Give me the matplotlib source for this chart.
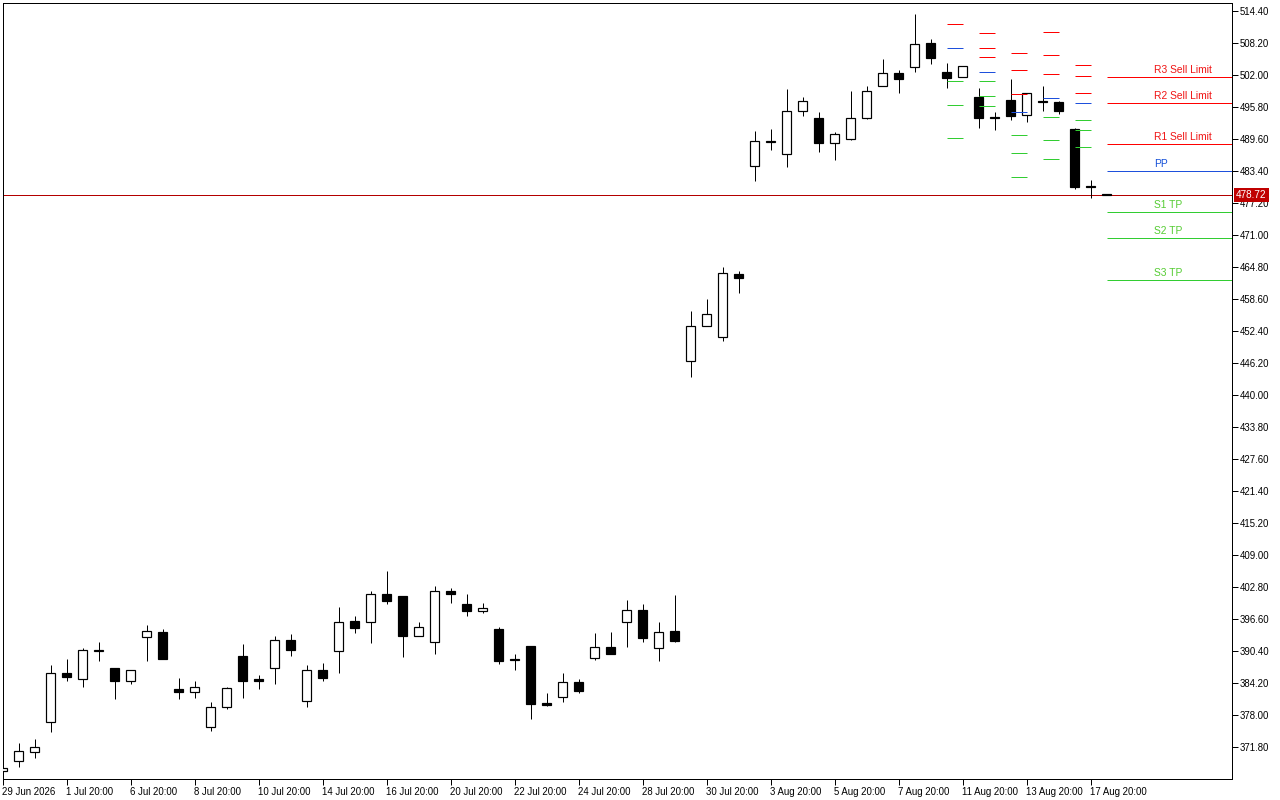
"""
Grafico de velas con pivotes diarios (estilo terminal)
"""

import matplotlib
matplotlib.use("Agg")
import matplotlib.pyplot as plt
import matplotlib.transforms as mtrans

plt.rcParams['font.family'] = ['Liberation Sans', 'DejaVu Sans']

# velas de 12h: apertura, maximo, minimo, cierre
opens = [367.21, 369.03, 370.89, 376.71, 386.07, 384.91, 390.45, 387.04, 384.65, 393.05,
         394.08, 383.04, 382.52, 375.61, 379.48, 389.37, 384.97, 387.04, 392.47, 380.65,
         386.65, 390.33, 396.15, 395.95, 401.38, 401.06, 393.37, 392.08, 401.96, 399.51,
         398.21, 394.66, 388.70, 391.37, 380.26, 381.42, 384.39, 389.11, 391.11, 395.95,
         398.28, 390.92, 394.27, 446.52, 453.30, 451.17, 463.38, 484.30, 489.00, 486.63,
         494.96, 493.60, 488.89, 489.66, 493.73, 499.80, 502.32, 503.48, 508.20, 502.58,
         501.55, 497.74, 493.93, 497.15, 494.18, 497.03, 496.70, 491.54, 480.36, 478.75]
highs = [367.80, 372.57, 373.35, 387.69, 388.85, 390.92, 392.14, 387.04, 386.65, 395.44,
         394.60, 385.17, 384.59, 380.52, 383.42, 391.76, 385.68, 393.31, 393.69, 387.69,
         388.07, 398.92, 397.18, 402.02, 405.90, 401.06, 396.02, 402.99, 402.54, 401.44,
         399.63, 394.98, 389.82, 391.37, 382.20, 386.14, 384.97, 393.95, 394.14, 400.28,
         399.51, 396.02, 401.31, 456.27, 458.60, 464.80, 464.02, 491.15, 491.54, 499.29,
         497.74, 494.83, 490.96, 498.90, 499.80, 505.10, 502.97, 513.90, 508.97, 504.32,
         503.68, 499.48, 494.77, 501.22, 498.45, 499.87, 496.96, 491.67, 481.66, 478.80]
lows = [367.10, 367.98, 369.73, 374.70, 384.65, 383.49, 388.53, 381.16, 384.07, 388.53,
        388.91, 381.16, 381.36, 374.96, 379.10, 381.36, 383.10, 384.07, 389.49, 379.61,
        384.65, 386.20, 393.95, 392.01, 399.57, 389.30, 393.37, 389.88, 399.76, 397.24,
        397.83, 387.94, 386.78, 377.22, 379.74, 380.52, 382.33, 388.72, 389.88, 391.24,
        392.21, 388.53, 392.21, 443.55, 453.30, 450.52, 459.82, 481.53, 487.53, 484.24,
        494.06, 487.14, 485.59, 489.47, 493.54, 499.80, 498.58, 502.64, 504.19, 499.54,
        501.55, 491.79, 491.41, 493.28, 492.96, 495.09, 494.51, 479.98, 478.23, 478.70]
closes = [367.67, 370.97, 371.73, 386.07, 385.43, 390.53, 390.55, 384.65, 386.65, 394.27,
          388.91, 382.52, 383.36, 379.48, 383.17, 384.65, 384.65, 392.47, 390.53, 386.65,
          385.23, 396.02, 394.92, 401.38, 400.15, 393.37, 394.98, 401.96, 401.51, 398.21,
          398.67, 388.53, 388.62, 380.13, 380.00, 384.33, 382.71, 391.11, 389.88, 398.28,
          392.98, 394.02, 392.40, 453.30, 455.63, 463.57, 462.60, 489.15, 489.12, 494.96,
          496.90, 488.89, 490.50, 493.60, 498.83, 502.32, 501.29, 508.00, 505.36, 501.48,
          503.68, 493.73, 493.60, 494.12, 498.45, 496.70, 495.09, 480.36, 480.30, 478.72]

x_labels = ['29 Jun 2026', '1 Jul 20:00', '6 Jul 20:00', '8 Jul 20:00', '10 Jul 20:00',
            '14 Jul 20:00', '16 Jul 20:00', '20 Jul 20:00', '22 Jul 20:00', '24 Jul 20:00',
            '28 Jul 20:00', '30 Jul 20:00', '3 Aug 20:00', '5 Aug 20:00', '7 Aug 20:00',
            '11 Aug 20:00', '13 Aug 20:00', '17 Aug 20:00']

# pivotes de dias anteriores (vela de inicio de cada dia)
pivot_start = [59, 61, 63, 65, 67]
pivot_r3 = [None, 510.08, 506.20, 510.27, 503.88]
pivot_r2 = [None, 507.17, 502.91, 505.82, 501.75]
pivot_r1 = [511.88, 505.43, 498.26, 502.14, 498.45]
pivot_pp = [507.17, 502.58, 494.77, 497.49, 496.52]
pivot_s1 = [500.84, 500.84, 490.32, 493.81, 493.22]
pivot_s2 = [496.13, 497.87, 486.83, 489.35, 491.29]
pivot_s3 = [489.79, 495.94, 482.18, 485.67, 488.05]

# pivotes del dia actual
current_start = 69
current_names = ['R3 Sell Limit', 'R2 Sell Limit', 'R1 Sell Limit', 'PP', 'S1 TP', 'S2 TP', 'S3 TP']
current_levels = [501.55, 496.50, 488.57, 483.34, 475.46, 470.36, 462.28]

last_price = 478.72

RED = '#FF0000'
BLUE = '#1E50DC'
GREEN = '#32CD32'
PX = 0.72  # 1 pixel en puntos a 100 dpi

fig = plt.figure(figsize=(12.8, 8), dpi=100)
ax = fig.add_axes([2.5 / 1280, 21 / 800, 1229.5 / 1280, 776 / 800])

x_max = 1229.5 / 16
ax.set_xlim(0, x_max)
ax.set_ylim(365.6, 515.95)

# velas
idx = list(range(len(opens)))
ax.vlines(idx, lows, highs, color='black', linewidth=PX, zorder=2)
for i in idx:
    o, c = opens[i], closes[i]
    bottom = min(o, c)
    height = max(abs(c - o), 0.15)
    face = 'white' if c >= o else 'black'
    ax.bar(i, height, bottom=bottom, width=0.6, color=face, edgecolor='black',
           linewidth=PX * 1.2, zorder=3)

# pivotes anteriores
for k, s in enumerate(pivot_start):
    for lvl, col in [(pivot_r3[k], RED), (pivot_r2[k], RED), (pivot_r1[k], RED),
                     (pivot_pp[k], BLUE), (pivot_s1[k], GREEN), (pivot_s2[k], GREEN),
                     (pivot_s3[k], GREEN)]:
        if lvl is not None:
            ax.hlines(lvl, s, s + 1, color=col, linewidth=PX, zorder=4)

# pivotes actuales con etiquetas
text_colors = ['#F01414'] * 3 + ['#1450D8'] + ['#55CC33'] * 3
for name, lvl, tcol in zip(current_names, current_levels, text_colors):
    col = RED if name.startswith('R') else (BLUE if name == 'PP' else GREEN)
    ax.hlines(lvl, current_start, x_max, color=col, linewidth=PX, zorder=4)
    ax.text(72.0, lvl + 0.45, name, color=tcol, fontsize=7.4, ha='left', va='bottom', zorder=5)

# precio actual
ax.axhline(last_price, color='#B40000', linewidth=PX, zorder=1)
trans = mtrans.blended_transform_factory(ax.transAxes, ax.transData)
ax.text(1.0032, last_price, f'{last_price:.2f}', transform=trans, color='white',
        fontsize=7.2, ha='left', va='center', zorder=10, clip_on=False,
        bbox=dict(boxstyle='square,pad=0.22', facecolor='#C00000', edgecolor='none'))

# ejes
y_ticks = [371.8 + 6.2 * k for k in range(24)]
ax.set_yticks(y_ticks)
ax.set_yticklabels([f'{v:.2f}' for v in y_ticks])
ax.yaxis.tick_right()
ax.set_xticks(list(range(0, 69, 4)))
ax.set_xticklabels(x_labels, ha='left')
ax.tick_params(axis='both', direction='out', length=4, width=PX, labelsize=6.9,
               colors='black', pad=1.5)
for lbl in ax.get_xticklabels():
    lbl.set_transform(lbl.get_transform() + mtrans.ScaledTranslation(-1 / 100, 0, fig.dpi_scale_trans))
for sp in ax.spines.values():
    sp.set_linewidth(PX)
    sp.set_color('black')

fig.savefig('out.png', dpi=100)
plt.close(fig)
